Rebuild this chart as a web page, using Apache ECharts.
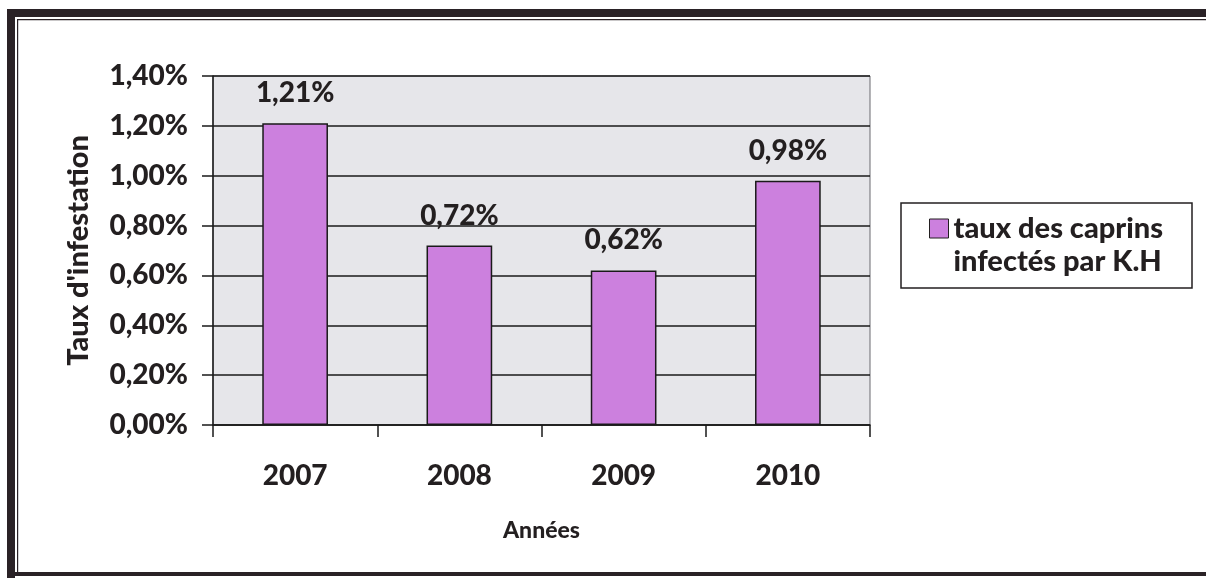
<!DOCTYPE html>
<html>
<head>
<meta charset="utf-8">
<script src="https://cdn.jsdelivr.net/npm/echarts@6/dist/echarts.min.js"></script>
<style>
html,body{margin:0;padding:0;background:#fff;}
#c{width:1206px;height:578px;}
</style>
</head>
<body>
<div id="c"></div>
<script>
var categories = ['2007', '2008', '2009', '2010'];
var values = [1.21, 0.72, 0.62, 0.98];
var seriesName = 'taux des caprins\ninfectés par K.H';
var yAxisTitle = "Taux d'infestation";
var xAxisTitle = 'Années';

function pct(v) { return v.toFixed(2).replace('.', ',') + '%'; }

var FONT = 'Lato';
var TXT = '#231f20';

var chart = echarts.init(document.getElementById('c'), null, {renderer: 'canvas'});
chart.setOption({
  backgroundColor: '#ffffff',
  animation: false,
  textStyle: {fontFamily: FONT},
  grid: {
    left: 213, top: 76, right: 336, bottom: 153,
    show: true, backgroundColor: '#e6e6ea', borderColor: '#6a6a70', borderWidth: 1
  },
  legend: {
    show: true,
    left: 929, top: 179,
    padding: 0,
    itemWidth: 19, itemHeight: 19, icon: 'rect',
    itemStyle: {borderColor: '#231f20', borderWidth: 1},
    textStyle: {fontFamily: FONT, fontWeight: 900, fontSize: 29, color: TXT, lineHeight: 33},
    formatter: function (name) { return ' \n' + name; },
    itemGap: 4,
    data: [seriesName]
  },
  xAxis: {
    type: 'category',
    data: categories,
    boundaryGap: true,
    name: xAxisTitle,
    nameLocation: 'middle',
    nameGap: 94,
    nameTextStyle: {fontFamily: FONT, fontWeight: 900, fontSize: 23, color: TXT},
    axisLine: {show: true, lineStyle: {color: '#1a1a1a', width: 1.5}},
    axisTick: {show: true, alignWithLabel: false, length: 12, lineStyle: {color: '#1a1a1a', width: 1.5}},
    axisLabel: {margin: 37, fontFamily: FONT, fontWeight: 900, fontSize: 28, color: TXT},
    splitLine: {show: false}
  },
  yAxis: {
    type: 'value',
    min: 0, max: 1.4, interval: 0.2,
    name: yAxisTitle,
    nameLocation: 'middle',
    nameGap: 120,
    nameTextStyle: {fontFamily: FONT, fontWeight: 900, fontSize: 29, color: TXT},
    axisLine: {show: true, lineStyle: {color: '#1a1a1a', width: 1.5}},
    axisTick: {show: true, inside: false, length: 11, lineStyle: {color: '#1a1a1a', width: 1.5}},
    axisLabel: {margin: 25, fontFamily: FONT, fontWeight: 900, fontSize: 28, color: TXT, formatter: pct},
    splitLine: {show: true, lineStyle: {color: '#1a1a1a', width: 1.5}}
  },
  series: [{
    name: seriesName,
    type: 'bar',
    data: values,
    barWidth: '40%',
    itemStyle: {color: '#cc80de', borderColor: '#1a1a1a', borderWidth: 1.5},
    label: {
      show: true, position: 'top', distance: 16,
      fontFamily: FONT, fontWeight: 900, fontSize: 28, color: TXT,
      formatter: function (p) { return pct(p.value); }
    }
  }],
  graphic: [
    {type: 'rect', shape: {x: 901, y: 203, width: 291, height: 85}, style: {fill: 'none', stroke: '#231f20', lineWidth: 1.5}, silent: true, z: 0},
    {type: 'rect', shape: {x: 7, y: 9, width: 1199, height: 8}, style: {fill: '#2a2226'}, silent: true},
    {type: 'rect', shape: {x: 7, y: 9, width: 8, height: 569}, style: {fill: '#2a2226'}, silent: true},
    {type: 'rect', shape: {x: 7, y: 572, width: 1199, height: 4}, style: {fill: '#2a2226'}, silent: true},
    {type: 'rect', shape: {x: 17, y: 19, width: 1189, height: 1.2}, style: {fill: '#2a2226'}, silent: true},
    {type: 'rect', shape: {x: 17, y: 19, width: 1.2, height: 553}, style: {fill: '#2a2226'}, silent: true}
  ]
});
</script>
</body>
</html>
